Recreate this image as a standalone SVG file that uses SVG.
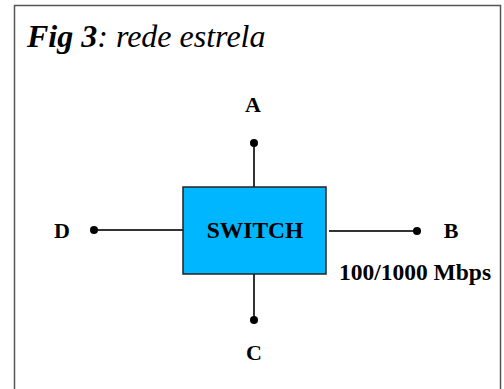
<svg xmlns="http://www.w3.org/2000/svg" width="504" height="389" viewBox="0 0 504 389">
<style>
.lbl{font-family:"Liberation Serif",serif;font-weight:bold;font-size:22px;fill:#000;text-anchor:middle}
.big{font-size:23.5px}
.title{font-family:"Liberation Serif",serif;font-size:32px;font-style:italic;fill:#000}
.ln{stroke:#333;stroke-width:2;fill:none}
.dot{fill:#000}
</style>
<rect width="504" height="389" fill="#fff"/>
<rect x="14.5" y="5.5" width="486" height="390" fill="none" stroke="#555" stroke-width="1.5"/>
<text class="title" x="27" y="47"><tspan font-weight="bold">Fig 3</tspan>: rede estrela</text>
<g id="connectors">
<line class="ln" x1="254" y1="143" x2="254" y2="187"/>
<line class="ln" x1="254" y1="274" x2="254" y2="320"/>
<line class="ln" x1="94" y1="230" x2="183" y2="230"/>
<line class="ln" x1="329" y1="231" x2="417" y2="231"/>
<circle class="dot" cx="254" cy="143" r="4"/>
<circle class="dot" cx="254" cy="320" r="4"/>
<circle class="dot" cx="94" cy="230" r="4"/>
<circle class="dot" cx="417" cy="231" r="4"/>
</g>
<g id="switch">
<rect x="183" y="187" width="143" height="87" fill="#00b6ff" stroke="#222" stroke-width="1.5"/>
<text class="lbl big" x="255" y="238">SWITCH</text>
</g>
<g id="A"><text class="lbl" x="253" y="112">A</text></g>
<g id="B"><text class="lbl" x="451" y="238">B</text></g>
<g id="C"><text class="lbl" x="254" y="360">C</text></g>
<g id="D"><text class="lbl" x="62" y="238">D</text></g>
<g id="speed"><text class="lbl big" x="415" y="280">100/1000 Mbps</text></g>
</svg>
